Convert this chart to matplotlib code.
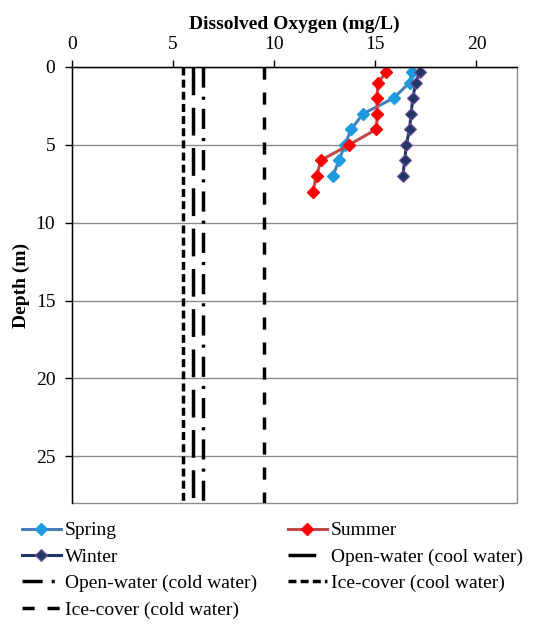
import numpy as np
import matplotlib
matplotlib.use("Agg")
import matplotlib.pyplot as plt

plt.rcParams['font.family'] = ['Liberation Serif', 'DejaVu Serif']

# Perfiles de oxígeno disuelto (mg/L) por profundidad (m)
spring_depth = [0.3, 1, 2, 3, 4, 5, 6, 7]
spring_do = [16.8, 16.7, 15.9, 14.4, 13.8, 13.5, 13.2, 12.9]

summer_depth = [0.3, 1, 2, 3, 4, 5, 6, 7, 8]
summer_do = [15.55, 15.15, 15.07, 15.1, 15.05, 13.7, 12.3, 12.1, 11.9]

winter_depth = [0.3, 1, 2, 3, 4, 5, 6, 7]
winter_do = [17.2, 17.0, 16.85, 16.77, 16.69, 16.53, 16.45, 16.36]

# Criterios (mg/L)
criteria_labels = ["Open-water (cool water)", "Open-water (cold water)",
                   "Ice-cover (cool water)", "Ice-cover (cold water)"]
criteria_values = [6.0, 6.5, 5.5, 9.5]
criteria_styles = [(0, (8, 3.6)), (0, (5.8, 2.6, 0.9, 2.6)),
                   (0, (2.3, 1.2)), (0, (3.5, 3.7))]
criteria_depth = [0, 28]

fig = plt.figure(figsize=(5.47, 6.26), dpi=100)
ax = fig.add_axes([0.1316, 0.1965, 0.8134, 0.6965])

h_spring, = ax.plot(spring_do, spring_depth, color='#4a7ebb', lw=2.2,
                    marker='D', ms=6.5, mfc='#1e9bdf', mec='#1e9bdf', label='Spring')
h_summer, = ax.plot(summer_do, summer_depth, color='#be4b48', lw=2.2,
                    marker='D', ms=6.5, mfc='#ff0000', mec='#ff0000', label='Summer')
h_winter, = ax.plot(winter_do, winter_depth, color='#1f3864', lw=2.2,
                    marker='D', ms=6.5, mfc='#1f3864', mec='#7a4fa0', mew=0.8,
                    label='Winter')

crit = {}
for lab, val, ls in zip(criteria_labels, criteria_values, criteria_styles):
    h, = ax.plot([val, val], criteria_depth, color='black', lw=2.5,
                 linestyle=ls, label=lab)
    crit[lab] = h

ax.set_xlim(0, 22)
ax.set_ylim(28, 0)
ax.xaxis.tick_top()
ax.xaxis.set_label_position('top')
ax.set_xticks([0, 5, 10, 15, 20])
ax.set_yticks([0, 5, 10, 15, 20, 25])
ax.tick_params(labelsize=14, length=5, width=1)
ax.tick_params(axis='y', direction='out', length=5, pad=7)
ax.tick_params(axis='x', direction='out', length=5, pad=5)
ax.yaxis.grid(True, color='#8c8c8c', lw=1)
ax.set_axisbelow(True)
for side in ['right', 'bottom']:
    ax.spines[side].set_visible(False)
ax.spines['top'].set_linewidth(1)
ax.spines['left'].set_linewidth(1)
ax.set_xlabel('Dissolved Oxygen (mg/L)', fontsize=14, fontweight='bold', labelpad=5)
ax.set_ylabel('Depth (m)', fontsize=14, fontweight='bold', labelpad=4)

# Marco del área del gráfico
frame = plt.Rectangle((0.0, 0.0), 1.0, 1.0, transform=ax.transAxes, fill=False,
                      ec='#8c8c8c', lw=1, clip_on=False, zorder=0)
ax.add_patch(frame)

handles = [h_spring, h_winter, crit["Open-water (cold water)"], crit["Ice-cover (cold water)"],
           h_summer, crit["Open-water (cool water)"], crit["Ice-cover (cool water)"]]
fig.legend(handles=handles, labels=[h.get_label() for h in handles], ncol=2,
           loc='upper left', bbox_to_anchor=(0.022, 0.182), frameon=False,
           fontsize=14, handlelength=2.0, handletextpad=0.2, columnspacing=1.6,
           labelspacing=0.45, borderpad=0)

fig.savefig('out.png', dpi=100)
